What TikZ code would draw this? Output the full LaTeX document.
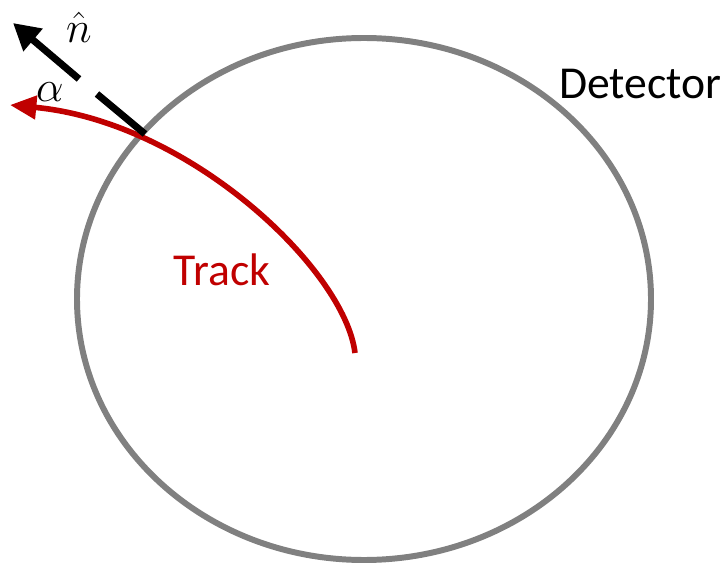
\documentclass[tikz,border=0pt]{standalone}
\usepackage{fontspec}
\setmainfont{Carlito}
\usetikzlibrary{arrows.meta}
\definecolor{trackred}{RGB}{192,0,0}
\definecolor{detgray}{RGB}{128,128,128}
\tikzset{
  label text/.style={font=\fontsize{26}{30}\selectfont, inner sep=0pt},
  math text/.style={font=\fontsize{28}{32}\selectfont, inner sep=0pt},
}
\begin{document}
\begin{tikzpicture}[x=0.02cm,y=-0.02cm]
			\useasboundingbox (0,0) rectangle (727,564);
			% detector
			\draw[detgray, line width=3.4pt] (364,299) ellipse [x radius=287, y radius=261];
			\node[label text, anchor=east] (det) at (722,84) {Detector};
			% track
			\draw[trackred, line width=3.2pt, -{Triangle[length=15pt,width=13pt]}]
				(355,353) .. controls (345,270) and (190,122) .. (10,105);
			\node[label text, trackred] (trk) at (222,270) {Track};
			% normal
			\coordinate (hit) at (145,134);
			\coordinate (gapA) at (97,94);
			\coordinate (gapB) at (79,79);
			\coordinate (tip) at (13,23);
			\draw[line width=4pt] (hit) -- (gapA);
			\draw[line width=4pt, -{Triangle[length=15pt,width=16pt]}] (gapB) -- (tip);
			\node[math text] (nhat) at (79,27) {$\hat{n}$};
			\node[math text] (alpha) at (50,92) {$\alpha$};
		\end{tikzpicture}
\end{document}
